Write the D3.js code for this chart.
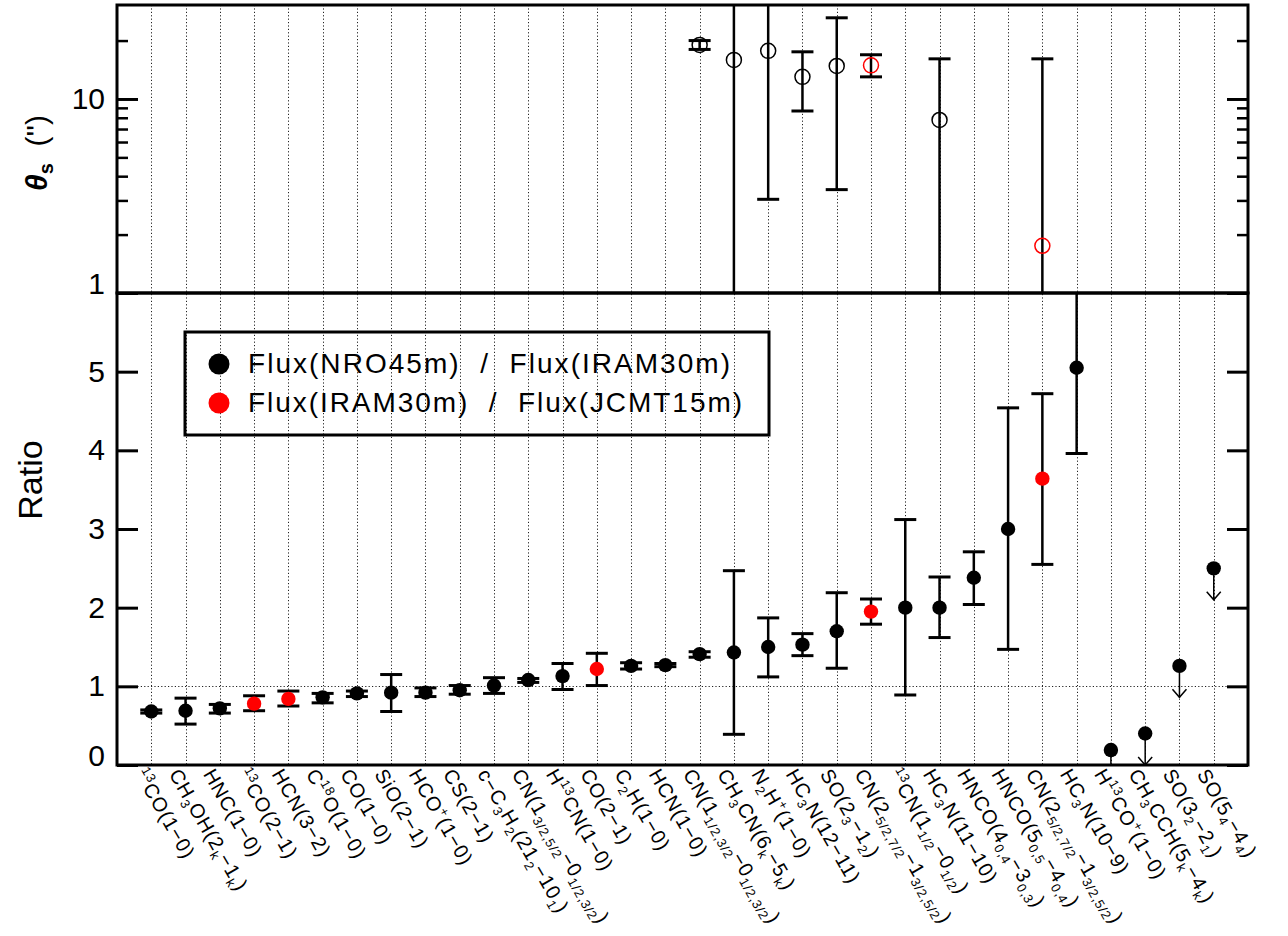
<!DOCTYPE html>
<html>
<head>
<meta charset="utf-8">
<script src="https://cdn.jsdelivr.net/npm/d3@7"></script>
<style>
body { margin: 0; background: #fff; }
text { font-family: "Liberation Sans", Arial, sans-serif; fill: #000; }
</style>
</head>
<body>
<svg id="chart" width="1288" height="936"></svg>
<script>
// molecular lines, in the order of the x axis
let lines = ["^{13}CO(1−0)", "CH_{3}OH(2_{k}−1_{k})", "HNC(1−0)", "^{13}CO(2−1)", "HCN(3−2)",
             "C^{18}O(1−0)", "CO(1−0)", "SiO(2−1)", "HCO^{+}(1−0)", "CS(2−1)",
             "c−C_{3}H_{2}(21_{2}−10_{1})", "CN(1_{3/2,5/2}−0_{1/2,3/2})", "H^{13}CN(1−0)", "CO(2−1)", "C_{2}H(1−0)",
             "HCN(1−0)", "CN(1_{1/2,3/2}−0_{1/2,3/2})", "CH_{3}CN(6_{k}−5_{k})", "N_{2}H^{+}(1−0)", "HC_{3}N(12−11)",
             "SO(2_{3}−1_{2})", "CN(2_{5/2,7/2}−1_{3/2,5/2})", "^{13}CN(1_{1/2}−0_{1/2})", "HC_{3}N(11−10)", "HNCO(4_{0,4}−3_{0,3})",
             "HNCO(5_{0,5}−4_{0,4})", "CN(2_{5/2,7/2}−1_{3/2,5/2})", "HC_{3}N(10−9)", "H^{13}CO^{+}(1−0)", "CH_{3}CCH(5_{k}−4_{k})",
             "SO(3_{2}−2_{1})", "SO(5_{4}−4_{4})"];

// flux ratio (bottom panel)
let ratio   = [0.68, 0.69, 0.72, 0.78, 0.84, 0.86, 0.91, 0.92, 0.92, 0.95, 1.01, 1.08, 1.13, 1.22, 1.26, 1.27,
               1.41, 1.43, 1.50, 1.53, 1.70, 1.95, 2.00, 2.00, 2.38, 3.00, 3.64, 5.05, 0.19, 0.40, 1.26, 2.50];
let ratioLo = [0.66, 0.52, 0.66, 0.69, 0.75, 0.79, 0.87, 0.68, 0.87, 0.90, 0.91, 1.05, 0.96, 1.01, 1.22, 1.25,
               1.37, 0.39, 1.12, 1.39, 1.23, 1.79, 0.89, 1.62, 2.04, 1.47, 2.55, 3.96, null, null, null, null];
let ratioHi = [0.70, 0.85, 0.77, 0.88, 0.94, 0.91, 0.94, 1.15, 0.98, 1.01, 1.11, 1.10, 1.29, 1.42, 1.30, 1.29,
               1.44, 2.47, 1.87, 1.67, 2.19, 2.11, 3.12, 2.39, 2.71, 4.54, 4.72, 6.50, null, null, null, null];
let upperLimit = [0,0,0,0,0,0,0,0,0,0,0,0,0,0,0,0,0,0,0,0,0,0,0,0,0,0,0,0,1,1,1,1];
// 0 = NRO45m / IRAM30m, 1 = IRAM30m / JCMT15m
let pair = [0,0,0,1,1,0,0,0,0,0,0,0,0,1,0,0,0,0,0,0,0,1,0,0,0,0,1,0,0,0,0,0];

// source size theta_s in arcsec (top panel)
let size   = [null,null,null,null,null,null,null,null,null,null,null,null,null,null,null,null,
              19.0, 15.9, 17.7, 13.0, 14.8, 14.9, null, 7.8, null, null, 1.75, null, null, null, null, null];
let sizeLo = [null,null,null,null,null,null,null,null,null,null,null,null,null,null,null,null,
              18.0, 0.5, 3.04, 8.67, 3.41, 13.0, null, 0.5, null, null, 0.5, null, null, null, null, null];
let sizeHi = [null,null,null,null,null,null,null,null,null,null,null,null,null,null,null,null,
              20.0, 60, 60, 17.5, 26.2, 16.9, null, 16.1, null, null, 16.1, null, null, null, null, null];

let pairNames = ["Flux(NRO45m)  /  Flux(IRAM30m)", "Flux(IRAM30m)  /  Flux(JCMT15m)"];
let palette = ["#000000", "#ff0000"];
let ratioTicks = [0, 1, 2, 3, 4, 5];
let sizeMajor = [1, 10];
let sizeMinor = [2, 3, 4, 5, 6, 7, 8, 9, 20];

let rows = lines.map(function(l, i) {
  return {i: i + 1, label: l, r: ratio[i], lo: ratioLo[i], hi: ratioHi[i], lim: upperLimit[i],
          pair: pair[i], s: size[i], slo: sizeLo[i], shi: sizeHi[i]};
});

let pLeft = 117, pRight = 1248, pTop = 5, pMid = 293, pBottom = 765;

let svg = d3.select("#chart");

let x = d3.scaleLinear().domain([0, lines.length + 1]).range([pLeft, pRight]);
let yTop = d3.scaleLog().domain([1, 30.5]).range([pMid, pTop]);
let yBot = d3.scaleLinear().domain([0, 6]).range([pBottom, pMid]);

let defs = svg.append("defs");
defs.append("clipPath").attr("id", "clipTop").append("rect")
  .attr("x", pLeft).attr("y", pTop).attr("width", pRight - pLeft).attr("height", pMid - pTop);
defs.append("clipPath").attr("id", "clipBot").append("rect")
  .attr("x", pLeft).attr("y", pMid).attr("width", pRight - pLeft).attr("height", pBottom - pMid);

// dotted grid
svg.append("g").selectAll("line").data(rows).join("line")
  .attr("x1", d => Math.round(x(d.i)) + 0.5).attr("x2", d => Math.round(x(d.i)) + 0.5)
  .attr("y1", pTop).attr("y2", pBottom)
  .attr("stroke", "#222").attr("stroke-width", 1).attr("stroke-dasharray", "1.2,2.2");
svg.append("line")
  .attr("x1", pLeft).attr("x2", pRight).attr("y1", Math.round(yBot(1)) + 0.5).attr("y2", Math.round(yBot(1)) + 0.5)
  .attr("stroke", "#222").attr("stroke-width", 1).attr("stroke-dasharray", "1.2,2.2");

// ---- top panel: source size
let topG = svg.append("g").attr("clip-path", "url(#clipTop)");
let sized = rows.filter(d => d.s != null);

topG.selectAll("line.err").data(sized).join("line").attr("class", "err")
  .attr("x1", d => x(d.i)).attr("x2", d => x(d.i))
  .attr("y1", d => yTop(d.shi)).attr("y2", d => yTop(d.slo))
  .attr("stroke", "#000").attr("stroke-width", 2.5);
["slo", "shi"].forEach(function(k) {
  topG.selectAll("line.cap-" + k).data(sized).join("line").attr("class", "cap-" + k)
    .attr("x1", d => x(d.i) - 11).attr("x2", d => x(d.i) + 11)
    .attr("y1", d => yTop(d[k])).attr("y2", d => yTop(d[k]))
    .attr("stroke", "#000").attr("stroke-width", 3);
});
topG.selectAll("circle").data(sized).join("circle")
  .attr("cx", d => x(d.i)).attr("cy", d => yTop(d.s)).attr("r", 7.5)
  .attr("fill", "none").attr("stroke", d => palette[d.pair]).attr("stroke-width", 1.5);

// ---- bottom panel: ratio
let botG = svg.append("g").attr("clip-path", "url(#clipBot)");
let measured = rows.filter(d => !d.lim);
let limits = rows.filter(d => d.lim);

botG.selectAll("line.err").data(measured).join("line").attr("class", "err")
  .attr("x1", d => x(d.i)).attr("x2", d => x(d.i))
  .attr("y1", d => yBot(d.hi)).attr("y2", d => yBot(d.lo))
  .attr("stroke", "#000").attr("stroke-width", 2.5);
["lo", "hi"].forEach(function(k) {
  botG.selectAll("line.cap-" + k).data(measured).join("line").attr("class", "cap-" + k)
    .attr("x1", d => x(d.i) - 11).attr("x2", d => x(d.i) + 11)
    .attr("y1", d => yBot(d[k])).attr("y2", d => yBot(d[k]))
    .attr("stroke", "#000").attr("stroke-width", 3);
});

// upper limits: arrow pointing down
botG.selectAll("line.arrow").data(limits).join("line").attr("class", "arrow")
  .attr("x1", d => x(d.i)).attr("x2", d => x(d.i))
  .attr("y1", d => yBot(d.r)).attr("y2", d => yBot(d.r - 0.4))
  .attr("stroke", "#000").attr("stroke-width", 1.5);
botG.selectAll("path.head").data(limits).join("path").attr("class", "head")
  .attr("d", function(d) {
    let px = x(d.i), py = yBot(d.r - 0.4);
    return "M" + (px - 7) + "," + (py - 8) + "L" + px + "," + py + "L" + (px + 7) + "," + (py - 8);
  })
  .attr("fill", "none").attr("stroke", "#000").attr("stroke-width", 1.5);

botG.selectAll("circle").data(rows).join("circle")
  .attr("cx", d => x(d.i)).attr("cy", d => yBot(d.r)).attr("r", 7.2)
  .attr("fill", d => palette[d.pair]);

// ---- axes
function styleAxis(g, w) {
  g.select(".domain").remove();
  g.selectAll("line").attr("stroke", "#000").attr("stroke-width", w);
  g.selectAll("text").attr("font-size", 30).attr("fill", "#000")
    .attr("font-family", "Liberation Sans, Arial, sans-serif");
}

svg.append("g").attr("transform", "translate(" + pLeft + ",0)")
  .call(d3.axisLeft(yTop).tickValues(sizeMajor).tickSizeInner(-21).tickSizeOuter(0)
        .tickPadding(12).tickFormat(d3.format("d")))
  .call(g => styleAxis(g, 3))
  .call(g => g.selectAll(".tick text").filter(d => d === 1).attr("dy", "0"));
svg.append("g").attr("transform", "translate(" + pLeft + ",0)")
  .call(d3.axisLeft(yTop).tickValues(sizeMinor).tickSizeInner(-11).tickSizeOuter(0).tickFormat(""))
  .call(g => styleAxis(g, 2.5));
svg.append("g").attr("transform", "translate(" + pRight + ",0)")
  .call(d3.axisRight(yTop).tickValues(sizeMajor).tickSizeInner(-21).tickSizeOuter(0).tickFormat(""))
  .call(g => styleAxis(g, 3));
svg.append("g").attr("transform", "translate(" + pRight + ",0)")
  .call(d3.axisRight(yTop).tickValues(sizeMinor).tickSizeInner(-11).tickSizeOuter(0).tickFormat(""))
  .call(g => styleAxis(g, 2.5));

svg.append("g").attr("transform", "translate(" + pLeft + ",0)")
  .call(d3.axisLeft(yBot).tickValues(ratioTicks).tickSizeInner(-21).tickSizeOuter(0)
        .tickPadding(12).tickFormat(d3.format("d")))
  .call(g => styleAxis(g, 3))
  .call(g => g.selectAll(".tick text").filter(d => d === 0).attr("dy", "0"));
svg.append("g").attr("transform", "translate(" + pRight + ",0)")
  .call(d3.axisRight(yBot).tickValues(ratioTicks).tickSizeInner(-21).tickSizeOuter(0).tickFormat(""))
  .call(g => styleAxis(g, 3));

// panel frames
svg.append("rect").attr("x", pLeft).attr("y", pTop).attr("width", pRight - pLeft).attr("height", pMid - pTop)
  .attr("fill", "none").attr("stroke", "#000").attr("stroke-width", 3);
svg.append("rect").attr("x", pLeft).attr("y", pMid).attr("width", pRight - pLeft).attr("height", pBottom - pMid)
  .attr("fill", "none").attr("stroke", "#000").attr("stroke-width", 3);

// axis titles
let th = svg.append("text").attr("transform", "translate(47,153) rotate(-90)")
  .attr("text-anchor", "middle").attr("font-size", 30);
th.append("tspan").attr("font-weight", "bold").attr("font-style", "italic").text("θ");
th.append("tspan").attr("font-weight", "bold").attr("font-size", 20).attr("dy", 6).text("s");
th.append("tspan").attr("dy", -6).style("white-space", "pre").text("  ('')");

svg.append("text").attr("transform", "translate(42,480) rotate(-90)")
  .attr("text-anchor", "middle").attr("font-size", 34).text("Ratio");

// legend
let legend = svg.append("g");
legend.append("rect").attr("x", 185).attr("y", 332).attr("width", 584).attr("height", 103)
  .attr("fill", "none").attr("stroke", "#000").attr("stroke-width", 3);
legend.selectAll("circle").data(pairNames).join("circle")
  .attr("cx", 219).attr("cy", (d, i) => 364 + i * 39).attr("r", 10.5)
  .attr("fill", (d, i) => palette[i]);
legend.selectAll("text").data(pairNames).join("text")
  .attr("x", 248).attr("y", (d, i) => 373 + i * 39)
  .attr("font-size", 28)
  .attr("textLength", (d, i) => i ? 494 : 482).attr("lengthAdjust", "spacing")
  .style("white-space", "pre")
  .text(d => d);

// x labels with sub/superscripts
function parseLabel(s) {
  let out = [], re = /([_^])\{([^}]*)\}|([^_^]+)/g, m;
  while ((m = re.exec(s))) {
    if (m[3]) out.push({t: m[3], mode: "n"});
    else out.push({t: m[2], mode: m[1] === "_" ? "sub" : "sup"});
  }
  return out;
}

let xlab = svg.append("g");
rows.forEach(function(d) {
  let t = xlab.append("text")
    .attr("transform", "translate(" + (x(d.i) - 5) + ",767) rotate(60)")
    .attr("y", 14).attr("font-size", 20).attr("letter-spacing", 0.9);
  let shift = 0;
  parseLabel(d.label).forEach(function(s) {
    let target = s.mode === "sub" ? 5 : s.mode === "sup" ? -8 : 0;
    t.append("tspan").attr("dy", target - shift)
      .attr("font-size", s.mode === "n" ? 20 : 13).text(s.t);
    shift = target;
  });
});
</script>
</body>
</html>
